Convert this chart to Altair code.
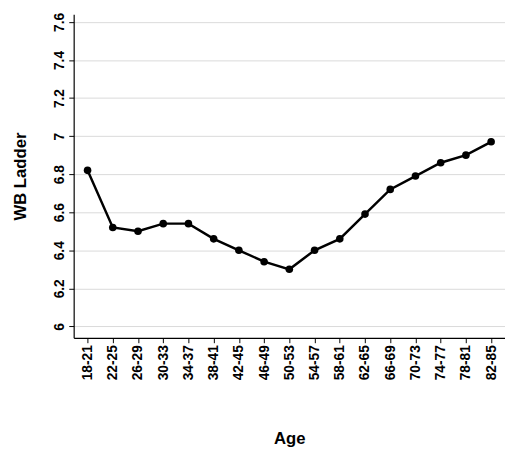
import altair as alt
import pandas as pd

ages = ["18-21", "22-25", "26-29", "30-33", "34-37", "38-41", "42-45", "46-49", "50-53",
        "54-57", "58-61", "62-65", "66-69", "70-73", "74-77", "78-81", "82-85"]
ladder = [6.82, 6.52, 6.50, 6.54, 6.54, 6.46, 6.40, 6.34, 6.30,
          6.40, 6.46, 6.59, 6.72, 6.79, 6.86, 6.90, 6.97]

df = pd.DataFrame({"Age": ages, "WB Ladder": ladder})

base = alt.Chart(df).encode(
    x=alt.X("Age:N", sort=ages, title="Age",
            scale=alt.Scale(type="point", padding=0.55),
            axis=alt.Axis(labelAngle=-90, grid=False, titlePadding=52)),
    y=alt.Y("WB Ladder:Q", title="WB Ladder",
            scale=alt.Scale(domain=[5.94, 7.64], nice=False, zero=False),
            axis=alt.Axis(values=[6, 6.2, 6.4, 6.6, 6.8, 7, 7.2, 7.4, 7.6], format="~g",
                          labelAngle=-90, labelAlign="center", labelBaseline="bottom",
                          gridColor="#d9d9d9", titlePadding=24)),
)

line = base.mark_line(color="black", strokeWidth=2.5)
pts = base.mark_circle(color="black", size=60, opacity=1)

chart = alt.layer(line, pts).properties(
    width=440, height=330,
    autosize=alt.AutoSizeParams(type="none"),
    padding={"left": 67, "top": 2, "right": 0, "bottom": 110},
).configure_view(stroke=None).configure_axis(
    labelFont="Liberation Sans", titleFont="Liberation Sans",
    labelFontWeight="bold", titleFontWeight="bold",
    labelFontSize=14, titleFontSize=17, labelColor="black", titleColor="black",
    domainColor="black", tickColor="black", domainWidth=1.2,
)

chart.save("out.html", embed_options={"renderer": "svg", "actions": False})
